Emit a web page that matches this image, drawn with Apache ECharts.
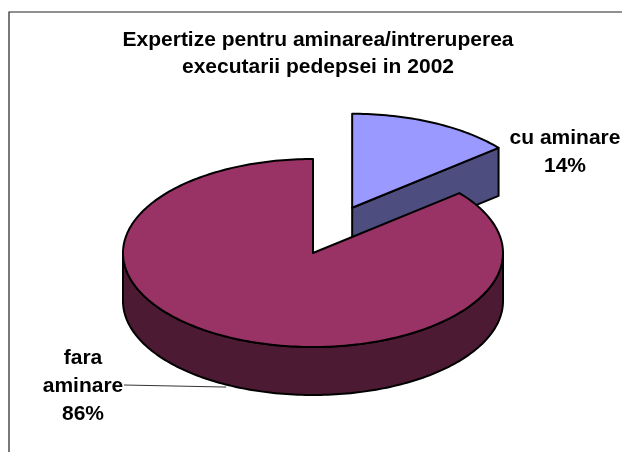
<!DOCTYPE html>
<html>
<head>
<meta charset="utf-8">
<script src="https://cdn.jsdelivr.net/npm/echarts@6/dist/echarts.min.js"></script>
<style>
html, body { margin: 0; padding: 0; background: #fff; }
#chart { width: 622px; height: 452px; }
</style>
</head>
<body>
<div id="chart"></div>
<script>
// date grafic
var categories = ['cu aminare', 'fara aminare'];
var values = [14, 86];
var exploded = [true, false];

// culori (fata de sus / perete lateral)
var topColors = ['#9999ff', '#993366'];
var sideColors = ['#4d4d80', '#4d1a33'];

var total = values.reduce(function (a, b) { return a + b; }, 0);

// geometrie pie 3D
var cx = 313, cy = 253, rx = 190, ry = 94, depth = 48;
var exX = 92, exY = 50;
var labelPos = [[565, 152], [83, 386]];

function pt(a, ox, oy, dz) {
	return [ox + rx * Math.sin(a), oy - ry * Math.cos(a) + (dz || 0)];
}

function arcPts(a0, a1, ox, oy, dz) {
	var pts = [];
	var n = Math.max(2, Math.ceil(Math.abs(a1 - a0) / 0.02));
	for (var i = 0; i <= n; i++) {
		pts.push(pt(a0 + (a1 - a0) * i / n, ox, oy, dz));
	}
	return pts;
}

function renderItem(params, api) {
	var idx = params.dataIndex;
	var start = 0;
	for (var i = 0; i < idx; i++) start += values[i];
	var a0 = start / total * Math.PI * 2;
	var a1 = (start + api.value(0)) / total * Math.PI * 2;
	var mid = (a0 + a1) / 2;
	var ox = cx, oy = cy;
	if (exploded[idx]) {
		ox += exX * Math.sin(mid);
		oy -= exY * Math.cos(mid);
	}
	var stroke = { stroke: '#000', lineWidth: 2, lineJoin: 'round' };
	var children = [];

	// perete exterior, doar partea din fata (intre 90 si 270 grade)
	var f0 = Math.max(a0, Math.PI / 2), f1 = Math.min(a1, Math.PI * 1.5);
	if (f1 > f0) {
		var topArc = arcPts(f0, f1, ox, oy, 0);
		var botArc = arcPts(f1, f0, ox, oy, depth);
		children.push({
			type: 'polygon',
			shape: { points: topArc.concat(botArc) },
			style: Object.assign({ fill: sideColors[idx] }, stroke)
		});
	}

	// fetele de taietura vizibile
	[[a0, a0 - Math.PI / 2], [a1, a1 + Math.PI / 2]].forEach(function (e) {
		if (Math.cos(e[1]) < -0.01) {
			var r = pt(e[0], ox, oy, 0);
			children.push({
				type: 'polygon',
				shape: { points: [[ox, oy], r, [r[0], r[1] + depth], [ox, oy + depth]] },
				style: Object.assign({ fill: sideColors[idx] }, stroke)
			});
		}
	});

	// fata de sus
	children.push({
		type: 'polygon',
		shape: { points: [[ox, oy]].concat(arcPts(a0, a1, ox, oy, 0)) },
		style: Object.assign({ fill: topColors[idx] }, stroke)
	});

	// eticheta
	var pct = Math.round(api.value(0) / total * 100) + '%';
	var name = categories[idx];
	var txt = exploded[idx] ? name + '\n' + pct : name.replace(' ', '\n') + '\n' + pct;
	var lp = labelPos[idx];
	if (!exploded[idx]) {
		var edge = pt(mid, ox, oy, depth);
		children.push({
			type: 'line',
			shape: { x1: lp[0] + 41, y1: lp[1] - 1, x2: edge[0] - 6, y2: edge[1] + 1 },
			style: { stroke: '#000', lineWidth: 0.8 }
		});
	}
	children.push({
		type: 'text',
		style: {
			x: lp[0], y: lp[1],
			text: txt,
			fill: '#000',
			font: 'bold 21px "Liberation Sans", Arial, sans-serif',
			lineHeight: 28,
			align: 'center',
			verticalAlign: 'middle'
		}
	});

	return { type: 'group', children: children };
}

var option = {
	backgroundColor: '#fff',
	animation: false,
	title: {
		text: 'Expertize pentru aminarea/intreruperea\nexecutarii pedepsei in 2002',
		left: 313,
		top: 22,
		textAlign: 'center',
		textStyle: {
			fontFamily: '"Liberation Sans", Arial, sans-serif',
			fontWeight: 'bold',
			fontSize: 21,
			lineHeight: 27,
			color: '#000'
		}
	},
	graphic: [{
		type: 'rect',
		shape: { x: 9, y: 12, width: 700, height: 500 },
		style: { fill: 'none', stroke: '#222', lineWidth: 1.2 },
		z: -1
	}],
	series: [{
		type: 'custom',
		coordinateSystem: 'none',
		renderItem: renderItem,
		data: values.map(function (v, i) { return { name: categories[i], value: [v] }; })
	}]
};

var chart = echarts.init(document.getElementById('chart'));
chart.setOption(option);
</script>
</body>
</html>
